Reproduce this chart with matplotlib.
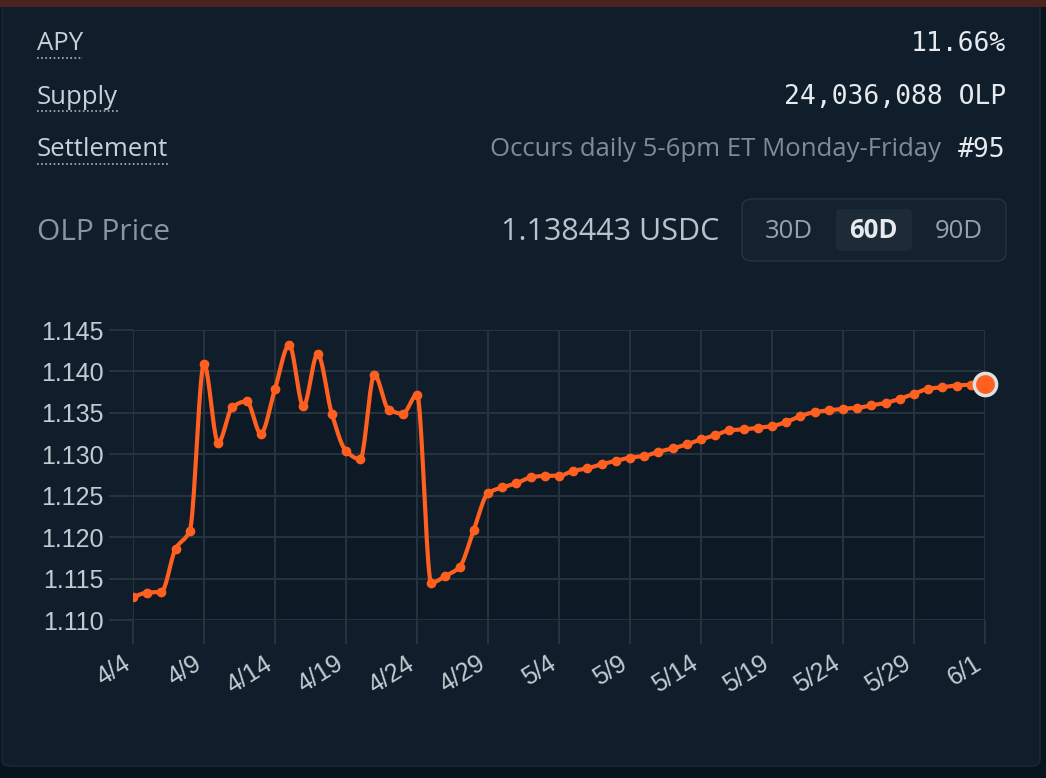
import numpy as np
import matplotlib
matplotlib.use('Agg')
import matplotlib.pyplot as plt
from matplotlib.patches import FancyBboxPatch, Rectangle
from matplotlib.transforms import ScaledTranslation

## Data ##
olp_price = [1.1128, 1.1133, 1.1134, 1.1186, 1.1208, 1.1409, 1.1314, 1.1357, 1.1364, 1.1325,
             1.1379, 1.1432, 1.1358, 1.1421, 1.1349, 1.1304, 1.1294, 1.1396, 1.1354, 1.1349,
             1.1372, 1.1145, 1.1153, 1.1164, 1.1209, 1.1253, 1.1260, 1.1265, 1.1272, 1.1274,
             1.1274, 1.1280, 1.1283, 1.1288, 1.1292, 1.1296, 1.1298, 1.1303, 1.1307, 1.1312,
             1.1318, 1.1323, 1.1329, 1.1330, 1.1332, 1.1334, 1.1339, 1.1346, 1.1351, 1.1353,
             1.1355, 1.1356, 1.1359, 1.1362, 1.1367, 1.1373, 1.1379, 1.1381, 1.1383, 1.1384,
             1.138443]
tick_labels = ['4/4', '4/9', '4/14', '4/19', '4/24', '4/29', '5/4', '5/9',
               '5/14', '5/19', '5/24', '5/29', '6/1']
y_ticks = [1.110, 1.115, 1.120, 1.125, 1.130, 1.135, 1.140, 1.145]

info_labels = ['APY', 'Supply', 'Settlement']
info_values = ['11.66%', '24,036,088 OLP', '#95']
settlement_note = 'Occurs daily 5-6pm ET Monday-Friday'
price_text = '1.138443 USDC'
ranges = ['30D', '60D', '90D']
selected_range = '60D'

## colours ##
BG_OUTER = '#07141d'
BG_CARD = '#101e2b'
ORANGE = '#ff5f1f'
GRID = '#26343f'

W, H = 1046, 778
fig = plt.figure(figsize=(W / 100, H / 100), dpi=100)
fig.patch.set_facecolor(BG_OUTER)


def fx(px):
    return px / W


def fy(py):
    return 1 - py / H


# card + top strip (kept behind the axes)
fig.patches.append(FancyBboxPatch((fx(2), fy(766)), fx(1038), 766 / H,
                                  boxstyle='round,pad=0,rounding_size=0.008',
                                  transform=fig.transFigure, facecolor=BG_CARD,
                                  edgecolor='#1c2a36', linewidth=1, zorder=-10))
fig.patches.append(Rectangle((0, fy(7)), 1, 7 / H, transform=fig.transFigure,
                             facecolor='#4a241e', edgecolor='none', zorder=-9))

## header rows ##
row_y = [44, 97, 150]
for lab, val, py in zip(info_labels, info_values, row_y):
    t = fig.text(fx(37), fy(py), lab, fontsize=18.5, color='#c9d1d8',
                 family='Open Sans', va='center', ha='left')
    fig.canvas.draw()
    bb = t.get_window_extent()
    fig.add_artist(plt.Line2D([bb.x0 / W, bb.x1 / W], [fy(py + 14)] * 2,
                              transform=fig.transFigure, color='#aab4bc',
                              linestyle=(0, (1, 1.5)), linewidth=1.2))
    fig.text(fx(1006), fy(py), val, fontsize=19, color='#e6eaee',
             family='DejaVu Sans Mono', va='center', ha='right')
fig.text(fx(941), fy(150), settlement_note, fontsize=18.5, color='#7d8c97',
         family='Open Sans', va='center', ha='right')

fig.text(fx(37), fy(232), 'OLP Price', fontsize=21.5, color='#8796a2',
         family='Open Sans', va='center', ha='left')
fig.text(fx(719), fy(232), price_text, fontsize=22, color='#b9c3cb',
         family='Open Sans', va='center', ha='right')

# range selector
fig.patches.append(FancyBboxPatch((fx(742), fy(261)), fx(264), 62 / H,
                                  boxstyle='round,pad=0,rounding_size=0.01',
                                  transform=fig.transFigure, facecolor='#142230',
                                  edgecolor='#26343f', linewidth=1, zorder=-8))
fig.patches.append(FancyBboxPatch((fx(836), fy(251)), fx(76), 42 / H,
                                  boxstyle='round,pad=0,rounding_size=0.006',
                                  transform=fig.transFigure, facecolor='#1d2b38',
                                  edgecolor='none', zorder=-7))
for r, cx in zip(ranges, [789, 873, 959]):
    sel = r == selected_range
    fig.text(fx(cx), fy(231), r, fontsize=18.5, family='Open Sans',
             color='#e6eaee' if sel else '#94a2ad',
             fontweight='bold' if sel else 'normal', va='center', ha='center')

## chart ##
ax = fig.add_axes([fx(133), fy(620), fx(985 - 133), (620 - 330) / H])
ax.set_facecolor(BG_CARD)
x = np.arange(len(olp_price))
y = np.array(olp_price)


# monotone cubic (Fritsch-Carlson) just for drawing the smooth curve
def monotone_curve(xs, ys, n=20):
    h = np.diff(xs)
    d = np.diff(ys) / h
    m = np.zeros_like(ys)
    m[0], m[-1] = d[0], d[-1]
    for i in range(1, len(ys) - 1):
        if d[i - 1] * d[i] <= 0:
            m[i] = 0
        else:
            m[i] = 2 / (1 / d[i - 1] + 1 / d[i])
    px, py = [], []
    for i in range(len(xs) - 1):
        t = np.linspace(0, 1, n, endpoint=False)
        h00 = 2 * t**3 - 3 * t**2 + 1
        h10 = t**3 - 2 * t**2 + t
        h01 = -2 * t**3 + 3 * t**2
        h11 = t**3 - t**2
        px.append(xs[i] + t * h[i])
        py.append(h00 * ys[i] + h10 * h[i] * m[i] + h01 * ys[i + 1] + h11 * h[i] * m[i + 1])
    px.append([xs[-1]])
    py.append([ys[-1]])
    return np.concatenate(px), np.concatenate(py)


cx, cy = monotone_curve(x.astype(float), y)
ax.fill_between(cx, cy, 1.110, color='#0b151e', alpha=0.45, linewidth=0, zorder=1)
ax.plot(cx, cy, color=ORANGE, linewidth=3, solid_capstyle='round', zorder=3)
ax.plot(x[:-1], y[:-1], 'o', color=ORANGE, markersize=6, zorder=4)
ax.plot(x[-1], y[-1], 'o', color=ORANGE, markersize=16, markeredgecolor='#dde1e4',
        markeredgewidth=2.5, zorder=5, clip_on=False)

ax.set_xlim(0, len(olp_price) - 1)
ax.set_ylim(1.110, 1.145)
ax.set_yticks(y_ticks)
ax.set_yticklabels([f'{v:.3f}' for v in y_ticks])
ax.set_xticks(np.arange(0, len(olp_price), 5))
ax.set_xticklabels(tick_labels, rotation=32, ha='right', va='center',
                   rotation_mode='anchor')
ax.grid(True, color=GRID, linewidth=1.4, zorder=0)
ax.tick_params(axis='both', colors=GRID, width=1.4, length=17, labelsize=18,
               labelcolor='#c3cbd2', pad=4)
ax.tick_params(axis='x', pad=13)
shift = ScaledTranslation(-5 / 100, 0, fig.dpi_scale_trans)
for lbl in ax.get_xticklabels():
    lbl.set_transform(lbl.get_transform() + shift)
for lbl in ax.get_xticklabels() + ax.get_yticklabels():
    lbl.set_family('Liberation Sans')
for s in ax.spines.values():
    s.set_visible(False)

plt.savefig('out.png', dpi=100, facecolor=fig.get_facecolor())
